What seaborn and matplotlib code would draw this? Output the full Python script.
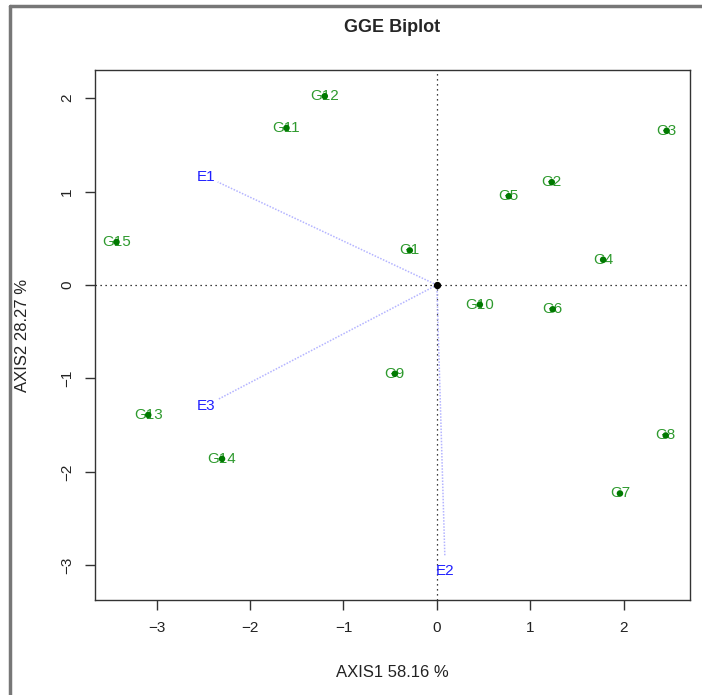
import pandas as pd
import matplotlib
matplotlib.use("Agg")
import matplotlib.pyplot as plt
from matplotlib.lines import Line2D
import seaborn as sns

# genotype scores
genotypes = ["G1", "G2", "G3", "G4", "G5", "G6", "G7", "G8",
             "G9", "G10", "G11", "G12", "G13", "G14", "G15"]
g_axis1 = [-0.29, 1.23, 2.46, 1.78, 0.77, 1.24, 1.96, 2.45,
           -0.45, 0.46, -1.61, -1.20, -3.09, -2.30, -3.43]
g_axis2 = [0.37, 1.10, 1.65, 0.27, 0.95, -0.26, -2.23, -1.61,
           -0.95, -0.21, 1.68, 2.02, -1.39, -1.86, 0.46]

# environment vectors
environments = ["E1", "E2", "E3"]
e_axis1 = [-2.47, 0.09, -2.47]
e_axis2 = [1.16, -3.06, -1.29]

x_ticks = [-3, -2, -1, 0, 1, 2]
y_ticks = [-3, -2, -1, 0, 1, 2]

geno = pd.DataFrame({"name": genotypes, "AXIS1": g_axis1, "AXIS2": g_axis2})
env = pd.DataFrame({"name": environments, "AXIS1": e_axis1, "AXIS2": e_axis2})

sns.set_style("white")
plt.rcParams["font.family"] = ["Liberation Sans", "DejaVu Sans"]

fig = plt.figure(figsize=(7.02, 6.95), dpi=100)
ax = fig.add_axes([95 / 702, 1 - 600 / 695, 595 / 702, 530 / 695])

ax.axhline(0, color="black", ls=(0, (1, 3)), lw=0.9, zorder=1)
ax.axvline(0, color="black", ls=(0, (1, 3)), lw=0.9, zorder=1)

for _, r in env.iterrows():
    # line stops just short of the label
    ax.plot([0, r.AXIS1 * 0.95], [0, r.AXIS2 * 0.95], color="#b4b4ff",
            ls=(0, (1, 1)), lw=1.1, zorder=2)
    ax.text(r.AXIS1, r.AXIS2, r["name"], color="#2020ff", fontsize=11,
            ha="center", va="center", zorder=4)

for _, r in geno.iterrows():
    ax.text(r.AXIS1, r.AXIS2, r["name"], color="#2e9a2e", fontsize=11,
            ha="center", va="center", zorder=3)
sns.scatterplot(data=geno, x="AXIS1", y="AXIS2", ax=ax, color="#007a00",
                s=22, edgecolor="none", zorder=5, legend=False)
ax.scatter([0], [0], color="black", s=18, zorder=6)

ax.set_xlim(-3.66, 2.71)
ax.set_ylim(-3.37, 2.30)
ax.set_xticks(x_ticks)
ax.set_yticks(y_ticks)
ax.set_xticklabels([str(v).replace("-", "\u2212") for v in x_ticks], fontsize=11)
ax.set_yticklabels([str(v).replace("-", "\u2212") for v in y_ticks], fontsize=11,
                   rotation=90, va="center")
ax.tick_params(axis="both", direction="out", length=7, width=1, color="#333333",
               labelcolor="#222222", bottom=True, left=True, pad=8)
for s in ax.spines.values():
    s.set_color("#333333")
    s.set_linewidth(1)
ax.set_xlabel("AXIS1 58.16 %", fontsize=12, labelpad=22, color="#222222")
ax.set_ylabel("AXIS2 28.27 %", fontsize=12, labelpad=22, color="#222222")
fig.text(392 / 702, 1 - 27 / 695, "GGE Biplot", fontsize=13, fontweight="bold",
         ha="center", va="center")

# grey outer frame (left and top edges)
fig.add_artist(Line2D([10 / 702, 10 / 702], [0, 1 - 6 / 695], color="#777777", lw=2.5))
fig.add_artist(Line2D([10 / 702, 1], [1 - 6 / 695, 1 - 6 / 695], color="#777777", lw=2.5))

fig.savefig("out.png", dpi=100)
